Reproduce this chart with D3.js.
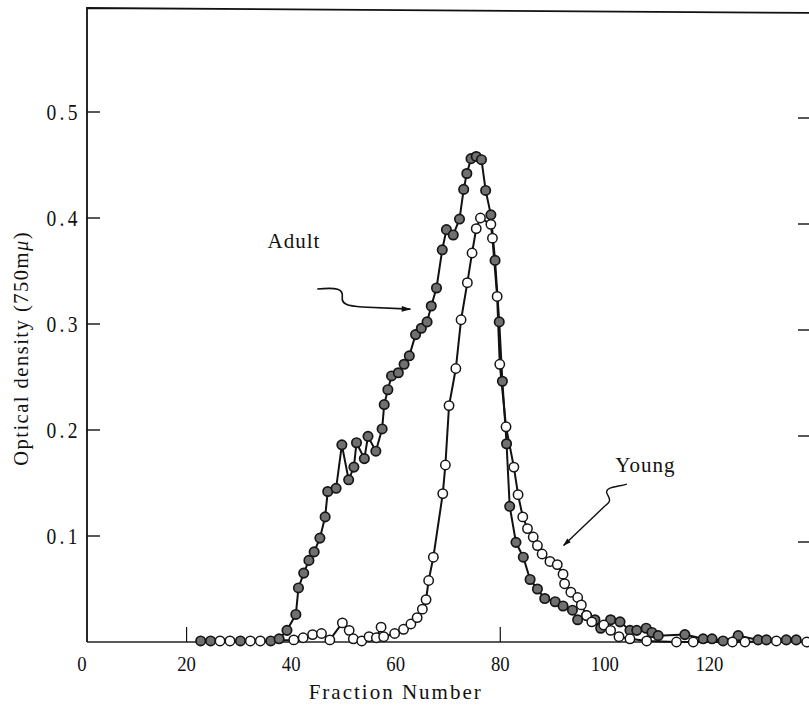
<!DOCTYPE html>
<html>
<head>
<meta charset="utf-8">
<script src="https://cdnjs.cloudflare.com/ajax/libs/d3/7.8.5/d3.min.js"></script>
<style>
  body { margin: 0; background: #fff; }
  svg text { font-family: "Liberation Serif", "DejaVu Serif", serif; fill: #111; }
</style>
</head>
<body>
<div id="chart"></div>
<script>
// fraction number / optical density
const adultFraction = [22.7, 24.6, 30.3, 36.1, 37.7, 39.2, 40.9, 41.4, 42.4, 43.4, 44.4, 45.5, 46.5, 47.0,
  48.6, 49.7, 51.0, 52.0, 52.5, 54.0, 54.7, 56.2, 57.4, 57.8, 58.5, 59.2, 60.5, 61.6, 62.6, 63.8,
  64.9, 66.0, 66.8, 67.8, 68.9, 69.7, 71.0, 72.2, 73.0, 73.6, 74.4, 75.4, 76.4, 77.2, 78.2, 79.0,
  79.8, 80.4, 81.2, 81.8, 83.0, 84.4, 85.7, 87.1, 88.5, 90.5, 92.0, 93.8, 94.8, 96.5, 98.1, 99.2,
  101.1, 102.9, 104.8, 106.1, 107.9, 109.0, 110.2, 115.3, 118.8, 120.5, 122.6, 125.5, 129.3, 130.9,
  134.7, 136.6];
const adultOD = [0.001, 0.001, 0.001, 0.001, 0.003, 0.011, 0.026, 0.051, 0.065, 0.077, 0.085, 0.098, 0.118, 0.142,
  0.145, 0.186, 0.153, 0.165, 0.188, 0.173, 0.194, 0.180, 0.201, 0.224, 0.238, 0.251, 0.254, 0.262, 0.270, 0.290,
  0.296, 0.302, 0.317, 0.334, 0.370, 0.389, 0.384, 0.399, 0.427, 0.442, 0.456, 0.458, 0.455, 0.426, 0.403, 0.360,
  0.302, 0.246, 0.187, 0.128, 0.094, 0.080, 0.059, 0.050, 0.041, 0.038, 0.034, 0.030, 0.021, 0.025, 0.021, 0.013,
  0.021, 0.019, 0.011, 0.011, 0.013, 0.009, 0.006, 0.007, 0.003, 0.003, 0.001, 0.006, 0.002, 0.002,
  0.002, 0.002];

const youngFraction = [26.4, 28.3, 32.2, 34.1, 40.5, 42.3, 44.1, 45.8, 47.4, 49.8, 51.1, 51.9, 53.5, 54.9,
  56.3, 57.2, 57.7, 59.8, 61.5, 62.9, 64.1, 65.1, 65.8, 66.3, 67.2, 69.0, 69.5, 70.2, 71.5, 72.5,
  73.7, 74.6, 75.4, 76.2, 78.2, 78.5, 79.4, 79.9, 81.1, 82.6, 83.4, 84.3, 85.2, 86.3, 87.1, 88.0,
  89.5, 90.9, 92.0, 92.3, 93.5, 94.8, 95.5, 96.5, 97.5, 99.8, 101.1, 102.7, 104.8, 108.0, 113.7,
  116.9, 124.4, 126.8, 132.8, 138.6];
const youngOD = [0.001, 0.001, 0.001, 0.001, 0.002, 0.004, 0.007, 0.008, 0.002, 0.018, 0.011, 0.003, 0.001, 0.005,
  0.004, 0.014, 0.005, 0.008, 0.012, 0.017, 0.023, 0.031, 0.040, 0.058, 0.080, 0.140, 0.167, 0.223, 0.258, 0.304,
  0.339, 0.367, 0.390, 0.400, 0.394, 0.381, 0.326, 0.262, 0.203, 0.165, 0.139, 0.118, 0.107, 0.099, 0.091, 0.083,
  0.076, 0.073, 0.064, 0.055, 0.047, 0.042, 0.035, 0.025, 0.019, 0.016, 0.011, 0.005, 0.003, 0.001, 0.000,
  0.000, 0.000, 0.000, 0.001, 0.000];

const xTickValues = [0, 20, 40, 60, 80, 100, 120];
const xTickMarks = [20, 80, 140];
const yTickValues = [0.1, 0.2, 0.3, 0.4, 0.5];

const width = 809;
const height = 711;

const svg = d3.select('#chart').append('svg')
  .attr('width', width)
  .attr('height', height);

const xScale = d3.scaleLinear()
  .domain([0, 140])
  .range([82, 814]);
const yScale = d3.scaleLinear()
  .domain([0, 0.5])
  .range([642, 112]);

const frameLeft = xScale(0) + 5;
const frameRight = xScale(140);

// frame (the scan is slightly skewed: the top edge drops to the right)
svg.append('path')
  .attr('d', `M${frameLeft},${yScale(0)} L${frameLeft},8 L${frameRight},13`)
  .attr('fill', 'none')
  .attr('stroke', '#111')
  .attr('stroke-width', 1.8);
svg.append('line')
  .attr('x1', frameLeft).attr('x2', frameRight)
  .attr('y1', yScale(0)).attr('y2', yScale(0))
  .attr('stroke', '#222')
  .attr('stroke-width', 1.3);

// left and right ticks, pointing inward
svg.append('g').selectAll('line.lt')
  .data(yTickValues).join('line')
  .attr('x1', frameLeft).attr('x2', frameLeft + 13)
  .attr('y1', d => yScale(d)).attr('y2', d => yScale(d))
  .attr('stroke', '#111').attr('stroke-width', 1.4);
svg.append('g').selectAll('line.rt')
  .data(yTickValues).join('line')
  .attr('x1', frameRight - 16).attr('x2', frameRight)
  .attr('y1', d => yScale(d) + 6).attr('y2', d => yScale(d) + 6)
  .attr('stroke', '#111').attr('stroke-width', 1.4);
svg.append('g').selectAll('line')
  .data(xTickMarks).join('line')
  .attr('x1', d => xScale(d)).attr('x2', d => xScale(d))
  .attr('y1', yScale(0)).attr('y2', yScale(0) - 15)
  .attr('stroke', '#111').attr('stroke-width', 1.2);

// tick labels: tall, narrow digits like the typeset original
svg.append('g').selectAll('text')
  .data(yTickValues).join('text')
  .attr('transform', d => `translate(${frameLeft - 6}, ${yScale(d) + 8}) scale(0.85, 1)`)
  .attr('text-anchor', 'end')
  .style('font-size', '23px')
  .style('letter-spacing', '4px')
  .text(d => d3.format('.1f')(d));
svg.append('g').selectAll('text')
  .data(xTickValues).join('text')
  .attr('transform', d => `translate(${xScale(d)}, 671) scale(0.85, 1)`)
  .attr('text-anchor', 'middle')
  .style('font-size', '22px')
  .text(d => d);

svg.append('text')
  .attr('x', xScale(60))
  .attr('y', 699)
  .attr('text-anchor', 'middle')
  .style('font-size', '21px')
  .style('letter-spacing', '2px')
  .text('Fraction Number');

const yTitle = svg.append('text')
  .attr('transform', `translate(28, ${yScale(0.277)}) rotate(-90)`)
  .attr('text-anchor', 'middle')
  .style('font-size', '20.5px')
  .style('letter-spacing', '1.5px');
yTitle.append('tspan').text('Optical density (750m');
yTitle.append('tspan').style('font-style', 'italic').text('μ');
yTitle.append('tspan').text(')');

// curves
const line = d3.line()
  .x(d => xScale(d[0]))
  .y(d => yScale(d[1]));
const adult = d3.zip(adultFraction, adultOD);
const young = d3.zip(youngFraction, youngOD);

svg.append('path')
  .datum(young)
  .attr('fill', 'none')
  .attr('stroke', '#111')
  .attr('stroke-width', 2)
  .attr('d', line);
svg.append('path')
  .datum(adult)
  .attr('fill', 'none')
  .attr('stroke', '#111')
  .attr('stroke-width', 2)
  .attr('d', line);

svg.append('g').selectAll('circle')
  .data(adult).join('circle')
  .attr('cx', d => xScale(d[0]))
  .attr('cy', d => yScale(d[1]))
  .attr('r', 4.7)
  .attr('fill', '#707070')
  .attr('stroke', '#151515')
  .attr('stroke-width', 1.7);
svg.append('g').selectAll('circle')
  .data(young).join('circle')
  .attr('cx', d => xScale(d[0]))
  .attr('cy', d => yScale(d[1]))
  .attr('r', 4.7)
  .attr('fill', '#fff')
  .attr('stroke', '#151515')
  .attr('stroke-width', 1.5);

// labels with wavy arrows
const marker = svg.append('defs').append('marker')
  .attr('id', 'head')
  .attr('viewBox', '0 0 10 10')
  .attr('refX', 9).attr('refY', 5)
  .attr('markerWidth', 9).attr('markerHeight', 6)
  .attr('orient', 'auto');
marker.append('path').attr('d', 'M0,2 L10,5 L0,8 Z').attr('fill', '#111');

svg.append('text')
  .attr('x', xScale(35.5))
  .attr('y', yScale(0.372))
  .style('font-size', '21px')
  .style('letter-spacing', '1px')
  .text('Adult');
const a0 = [xScale(45), yScale(0.333)];
const a1 = [xScale(62.8), yScale(0.314)];
svg.append('path')
  .attr('d', `M${a0[0]},${a0[1]} C${a0[0] + 20},${a0[1] - 2} ${a0[0] + 26},${a0[1]} ${a0[0] + 25},${a0[1] + 8}
    C${a0[0] + 24},${a0[1] + 15} ${a0[0] + 30},${a0[1] + 17} ${a0[0] + 45},${a0[1] + 18} L${a1[0]},${a1[1]}`)
  .attr('fill', 'none')
  .attr('stroke', '#111')
  .attr('stroke-width', 1.6)
  .attr('marker-end', 'url(#head)');

svg.append('text')
  .attr('x', xScale(102))
  .attr('y', yScale(0.16))
  .style('font-size', '21px')
  .style('letter-spacing', '1px')
  .text('Young');
const b0 = [xScale(104.2), yScale(0.149)];
const b1 = [xScale(92.1), yScale(0.091)];
svg.append('path')
  .attr('d', `M${b0[0]},${b0[1]} C${b0[0] - 10},${b0[1] + 3} ${b0[0] - 22},${b0[1] + 3} ${b0[0] - 20},${b0[1] + 9}
    C${b0[0] - 18},${b0[1] + 14} ${b0[0] - 14},${b0[1] + 16} ${b0[0] - 22},${b0[1] + 22} L${b1[0]},${b1[1]}`)
  .attr('fill', 'none')
  .attr('stroke', '#111')
  .attr('stroke-width', 1.4)
  .attr('marker-end', 'url(#head)');
</script>
</body>
</html>
